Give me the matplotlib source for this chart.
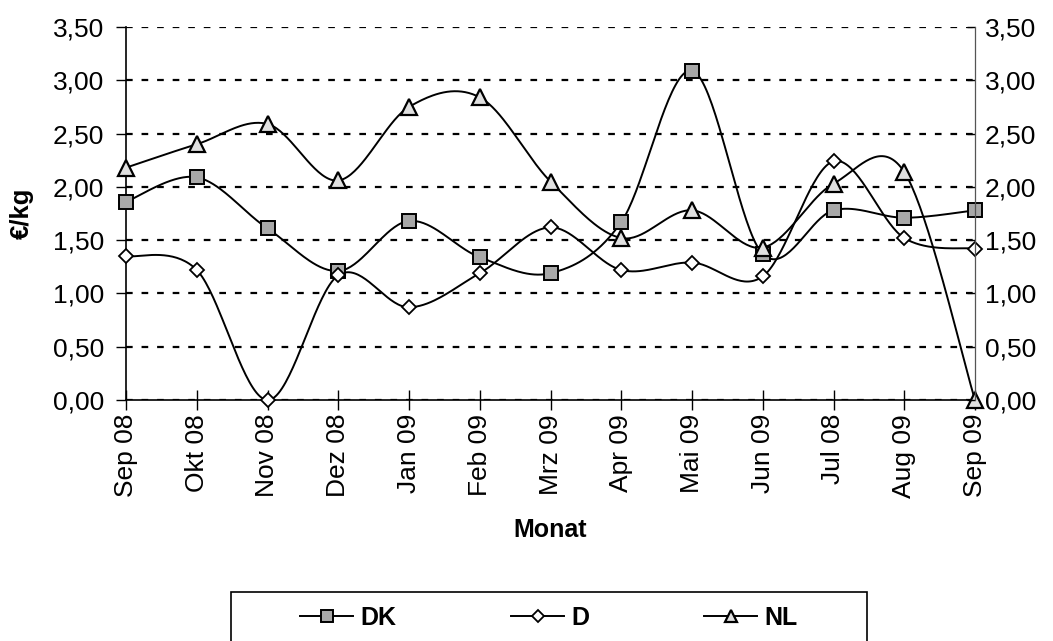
import numpy as np
import matplotlib
matplotlib.use("Agg")
import matplotlib.pyplot as plt
from matplotlib.lines import Line2D
from matplotlib.patches import Rectangle

plt.rcParams['font.family'] = ['Liberation Sans', 'DejaVu Sans']

months = ["Sep 08", "Okt 08", "Nov 08", "Dez 08", "Jan 09", "Feb 09", "Mrz 09",
          "Apr 09", "Mai 09", "Jun 09", "Jul 08", "Aug 09", "Sep 09"]
dk = [1.86, 2.09, 1.61, 1.21, 1.68, 1.34, 1.19, 1.67, 3.09, 1.37, 1.78, 1.71, 1.78]
d = [1.35, 1.22, 0.00, 1.17, 0.87, 1.19, 1.62, 1.22, 1.29, 1.16, 2.24, 1.52, 1.42]
nl = [2.18, 2.40, 2.59, 2.06, 2.75, 2.84, 2.05, 1.52, 1.78, 1.43, 2.03, 2.14, 0.00]
yticks = [0.0, 0.5, 1.0, 1.5, 2.0, 2.5, 3.0, 3.5]
ytick_labels = ["0,00", "0,50", "1,00", "1,50", "2,00", "2,50", "3,00", "3,50"]


def smooth(xv, yv, n=40):
    xv = np.asarray(xv, float)
    yv = np.asarray(yv, float)
    N = len(xv)
    xs, ys = [], []
    t = np.linspace(0, 1, n)
    for i in range(N - 1):
        a = i - 1 if i > 0 else i
        b = i + 2 if i + 2 < N else i + 1
        c1x = xv[i] + (xv[i + 1] - xv[a]) / 6
        c1y = yv[i] + (yv[i + 1] - yv[a]) / 6
        c2x = xv[i + 1] - (xv[b] - xv[i]) / 6
        c2y = yv[i + 1] - (yv[b] - yv[i]) / 6
        bx = ((1 - t) ** 3) * xv[i] + 3 * (1 - t) ** 2 * t * c1x + 3 * (1 - t) * t ** 2 * c2x + t ** 3 * xv[i + 1]
        by = ((1 - t) ** 3) * yv[i] + 3 * (1 - t) ** 2 * t * c1y + 3 * (1 - t) * t ** 2 * c2y + t ** 3 * yv[i + 1]
        xs.extend(bx)
        ys.extend(by)
    return np.array(xs), np.array(ys)


fig = plt.figure(figsize=(10.53, 6.41), dpi=100)
ax = fig.add_axes([126 / 1053, 1 - 400 / 641, (975 - 126) / 1053, (400 - 27) / 641])

x = np.arange(len(months))
styles = [
    ("DK", dk, dict(marker='s', ms=10, mfc='#a8a8a8', mec='black', mew=1.4)),
    ("D", d, dict(marker='D', ms=7.5, mfc='white', mec='black', mew=1.3)),
    ("NL", nl, dict(marker='^', ms=11, mfc='#e0e0e0', mec='black', mew=1.6)),
]
handles = []
for name, vals, mk in styles:
    sx, sy = smooth(x, vals)
    ax.plot(sx, sy, color='black', lw=1.4, zorder=3, clip_on=False)
    ax.plot(x, vals, ls='none', zorder=4, clip_on=False, **mk)
    lk = dict(mk)
    lk['ms'] = mk['ms'] * 0.8
    handles.append(Line2D([], [], color='black', lw=1.4, **lk))

ax.set_xlim(0, len(months) - 1)
ax.set_ylim(0, 3.5)
ax.set_xticks(x)
ax.set_xticklabels(months, rotation=90, fontsize=19)
ax.set_yticks(yticks)
ax.set_yticklabels(ytick_labels, fontsize=19)
ax.tick_params(axis='x', direction='inout', length=14, width=1, pad=3)
ax.tick_params(axis='y', direction='out', length=7, width=1, pad=9)
ax.grid(axis='y', color='black', linestyle=(0, (3, 4)), lw=1.6)
ax.grid(axis='x', visible=False)
ax.spines['top'].set_visible(False)
ax.spines['right'].set_visible(False)
ax.spines['left'].set_linewidth(1.2)
ax.spines['bottom'].set_linewidth(1.2)

ax2 = ax.twinx()
ax2.set_ylim(0, 3.5)
ax2.set_yticks(yticks)
ax2.set_yticklabels(ytick_labels, fontsize=19)
ax2.tick_params(axis='y', direction='in', length=6, width=1, pad=7)
for s in ['top', 'left', 'bottom']:
    ax2.spines[s].set_visible(False)
ax2.spines['right'].set_color('#555555')
ax2.spines['right'].set_linewidth(0.9)

fig.text(22 / 1053, 1 - 213 / 641, "€/kg", rotation=90, ha='center', va='center',
         fontsize=18.5, fontweight='bold')
fig.text(550 / 1053, 1 - 530 / 641, "Monat", ha='center', va='center',
         fontsize=18, fontweight='bold')

fig.patches.append(Rectangle((231 / 1053, -0.05), 636 / 1053, (641 - 592) / 641 + 0.05,
                             transform=fig.transFigure, fill=False, edgecolor='black', lw=1.2))
fig.legend(handles=handles, labels=[s[0] for s in styles],
           loc='center', bbox_to_anchor=(549 / 1053, 1 - 618 / 641), ncol=3,
           frameon=False, prop={'weight': 'bold', 'size': 18},
           handlelength=2.1, handletextpad=0.3, columnspacing=4.6, borderpad=0)

fig.savefig("out.png", dpi=100)
